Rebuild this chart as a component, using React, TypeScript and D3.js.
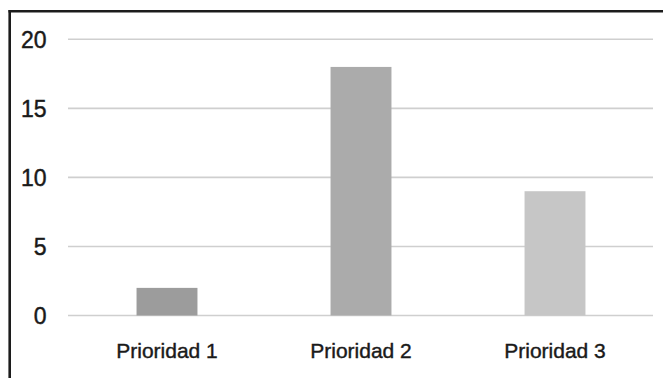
import React from "react";
import * as d3 from "d3";

const categories = ["Prioridad 1", "Prioridad 2", "Prioridad 3"];
const values = [2, 18, 9];
const barColors = ["#9c9c9c", "#ababab", "#c6c6c6"];
const yTicks = [0, 5, 10, 15, 20];

const W = 663;
const H = 378;

export default function App() {
  const y = d3.scaleLinear().domain([0, 20]).range([315.5, 39.3]);
  const x = d3
    .scaleBand<string>()
    .domain(categories)
    .range([70, 652])
    .paddingInner(0.686)
    .paddingOuter(0.343);

  const gridX0 = 68;
  const gridX1 = 653;
  const ink = "#1a1a1a";

  return (
    <svg
      width={W}
      height={H}
      style={{ position: "absolute", left: 0, top: 0, background: "#fff" }}
      fontFamily="'Liberation Sans', Arial, Helvetica, sans-serif"
    >
      <rect x={0} y={0} width={W} height={H} fill="#fff" />
      {/* frame: top and left edges only */}
      <line x1={8.5} x2={W} y1={11.3} y2={11.3} stroke="#1c1c1c" strokeWidth={2.6} />
      <line x1={9.7} x2={9.7} y1={10} y2={H} stroke="#1c1c1c" strokeWidth={2.6} />

      {yTicks.map((t) => (
        <g key={t}>
          <line
            x1={gridX0}
            x2={gridX1}
            y1={y(t)}
            y2={y(t)}
            stroke="#cfcfcf"
            strokeWidth={1.6}
          />
          <text
            x={46.5}
            y={y(t)}
            dy="0.36em"
            textAnchor="end"
            fontSize={23}
            fill={ink}
            stroke={ink}
            strokeWidth={0.45}
          >
            {t}
          </text>
        </g>
      ))}

      {categories.map((c, i) => (
        <rect
          key={c}
          x={x(c)}
          y={y(values[i])}
          width={x.bandwidth()}
          height={y(0) - y(values[i])}
          fill={barColors[i]}
        />
      ))}

      {categories.map((c) => (
        <text
          key={c}
          x={(x(c) as number) + x.bandwidth() / 2}
          y={357.7}
          textAnchor="middle"
          fontSize={21}
          fill={ink}
          stroke={ink}
          strokeWidth={0.4}
        >
          {c}
        </text>
      ))}
    </svg>
  );
}
